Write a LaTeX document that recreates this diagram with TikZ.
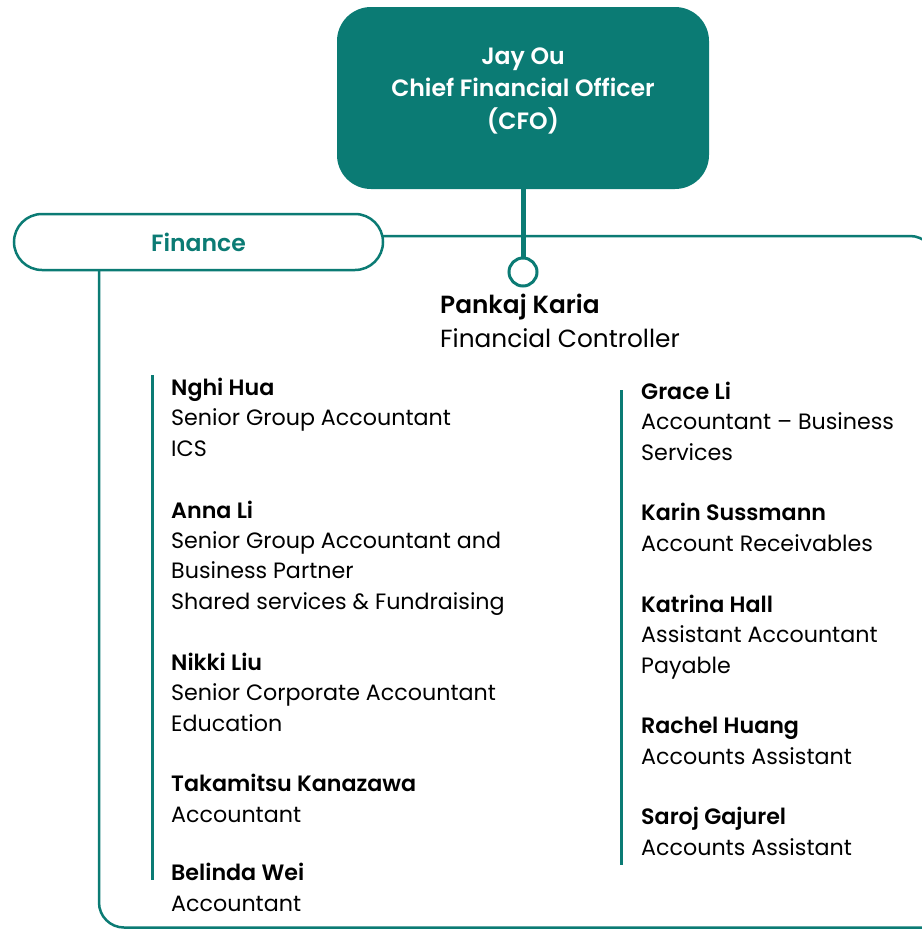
\documentclass[tikz,border=0pt]{standalone}
\usepackage{fontspec}
\setmainfont{Poppins}[BoldFont={Poppins SemiBold}]
\usetikzlibrary{positioning}
\definecolor{finteal}{RGB}{11,123,116}
\tikzset{
  boss/.style = {rectangle, rounded corners=34pt, fill=finteal, draw=none,
                 minimum width=372pt, minimum height=182pt, inner sep=0pt},
  bosstext/.style = {align=center, text=white, inner sep=0pt,
                 font=\fontsize{23.6}{32.5}\selectfont\bfseries},
  pill/.style = {rectangle, rounded corners=28pt, draw=finteal, line width=2.5pt,
                 fill=white, minimum width=369pt, minimum height=56pt,
                 text=finteal, font=\fontsize{23.5}{24}\selectfont\bfseries},
  hub/.style = {circle, draw=finteal, line width=3pt, fill=white,
                minimum size=28pt, inner sep=0pt},
  link/.style = {draw=finteal, line width=5pt},
  frame/.style = {draw=finteal, line width=2.5pt, rounded corners=25pt},
  bar/.style = {draw=finteal, line width=3pt},
  lead/.style = {anchor=base west, align=left, inner sep=0pt,
                 font=\fontsize{24.8}{34}\selectfont},
  staff/.style = {anchor=base west, align=left, inner sep=0pt,
                  font=\fontsize{22.2}{30.3}\selectfont}
}

\begin{document}
\begin{tikzpicture}[x=1pt,y=-1pt]
  \useasboundingbox (0,0) rectangle (921,929);

  % outer frame of the department
  \coordinate (frameL) at (99,0);
  \coordinate (frameR) at (935,236);
  \draw[frame] (383,236) -- (frameR) -- (935,960);
  \draw[frame] (frameL |- 0,270) -- (99,927.5) -- (960,927.5);

  % head of finance
  \node[boss] (cfo) at (523,98) {};
  \node[bosstext] (cfotext) at (523,90.5) {Jay Ou\\Chief Financial Officer\\(CFO)};

  \node[pill] (fin) at (198.5,242) {Finance};
  \node[hub] (hub) at (523,272) {};
  \draw[link] (cfo.south) -- (hub.north);

  % base anchor sits on the last line
  \node[lead] (karia) at (440,347) {\textbf{Pankaj Karia}\\Financial Controller};

  % left column
  \draw[bar] (152,375) -- (152,880);
  \node[staff] (nghi) at (171,456) {\textbf{Nghi Hua}\\Senior Group Accountant\\ICS};
  \node[staff] (anna) at (171,609) {\textbf{Anna Li}\\Senior Group Accountant and\\Business Partner\\Shared services \& Fundraising};
  \node[staff] (nikki) at (171,731) {\textbf{Nikki Liu}\\Senior Corporate Accountant\\Education};
  \node[staff] (taka) at (171,822) {\textbf{Takamitsu Kanazawa}\\Accountant};
  \node[staff] (belinda) at (171,911) {\textbf{Belinda Wei}\\Accountant};

  % right column
  \draw[bar] (621,390) -- (621,865);
  \node[staff] (grace) at (641,460) {\textbf{Grace Li}\\Accountant – Business\\Services};
  \node[staff] (karin) at (641,551) {\textbf{Karin Sussmann}\\Account Receivables};
  \node[staff] (katrina) at (641,673) {\textbf{Katrina Hall}\\Assistant Accountant\\Payable};
  \node[staff] (rachel) at (641,764) {\textbf{Rachel Huang}\\Accounts Assistant};
  \node[staff] (saroj) at (641,855) {\textbf{Saroj Gajurel}\\Accounts Assistant};
\end{tikzpicture}
\end{document}
